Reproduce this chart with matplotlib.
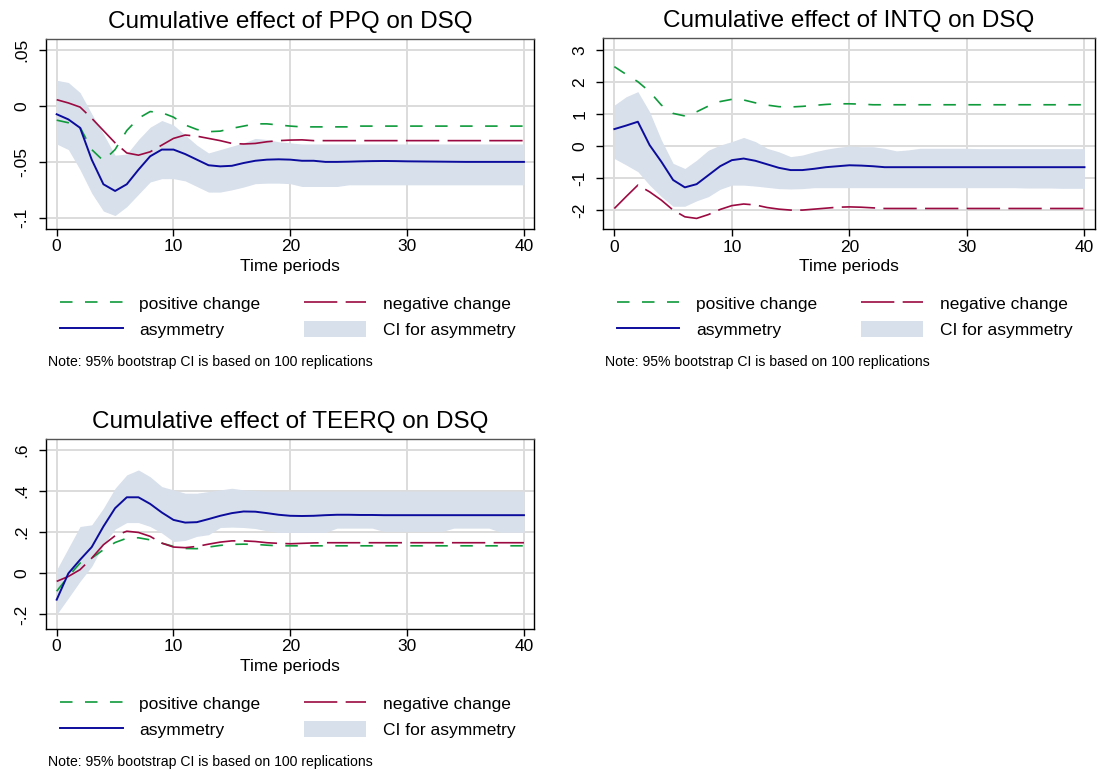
import matplotlib
matplotlib.use('Agg')
import matplotlib.pyplot as plt
from matplotlib.patches import Patch
from matplotlib.lines import Line2D

plt.rcParams['font.family'] = ['Liberation Sans', 'DejaVu Sans']
plt.rcParams['lines.scale_dashes'] = False

periods = list(range(41))

# PPQ panel
ppq_pos = [-0.0127, -0.015, -0.019, -0.039, -0.049, -0.039, -0.022, -0.011, -0.005, -0.006,
           -0.010, -0.017, -0.021, -0.023, -0.0225, -0.020, -0.018, -0.016, -0.016, -0.017,
           -0.018, -0.0187, -0.0187, -0.0187, -0.0187, -0.0187, -0.018, -0.018, -0.018, -0.018,
           -0.018, -0.018, -0.018, -0.018, -0.018, -0.018, -0.018, -0.018, -0.018, -0.018, -0.018]
ppq_neg = [0.0056, 0.0027, -0.001, -0.011, -0.022, -0.033, -0.042, -0.044, -0.041, -0.035,
           -0.029, -0.026, -0.027, -0.029, -0.031, -0.0335, -0.034, -0.0335, -0.032, -0.031,
           -0.0305, -0.0303, -0.031, -0.031, -0.031, -0.031, -0.031, -0.031, -0.031, -0.031,
           -0.031, -0.031, -0.031, -0.031, -0.031, -0.031, -0.031, -0.031, -0.031, -0.031, -0.031]
ppq_asym = [-0.0074, -0.012, -0.0195, -0.048, -0.070, -0.076, -0.070, -0.057, -0.045, -0.039,
            -0.039, -0.043, -0.048, -0.053, -0.054, -0.0535, -0.051, -0.049, -0.048, -0.0477,
            -0.048, -0.049, -0.049, -0.050, -0.050, -0.0498, -0.0495, -0.0493, -0.0492, -0.0493,
            -0.0495, -0.0496, -0.0497, -0.0498, -0.0499, -0.05, -0.05, -0.05, -0.05, -0.05, -0.05]
ppq_hi = [0.023, 0.021, 0.012, -0.007, -0.025, -0.044, -0.043, -0.030, -0.019, -0.013,
          -0.017, -0.026, -0.035, -0.042, -0.039, -0.036, -0.033, -0.029, -0.030, -0.032,
          -0.033, -0.034, -0.034, -0.034, -0.034, -0.034, -0.034, -0.034, -0.034, -0.034,
          -0.034, -0.034, -0.034, -0.034, -0.034, -0.034, -0.034, -0.034, -0.034, -0.034, -0.034]
ppq_lo = [-0.034, -0.039, -0.057, -0.078, -0.094, -0.098, -0.090, -0.079, -0.068, -0.065,
          -0.065, -0.067, -0.072, -0.077, -0.077, -0.075, -0.0725, -0.0695, -0.069, -0.069,
          -0.0695, -0.072, -0.072, -0.072, -0.072, -0.0705, -0.0705, -0.0705, -0.0705, -0.0705,
          -0.0705, -0.0705, -0.0705, -0.0705, -0.0705, -0.0705, -0.0705, -0.0705, -0.0705, -0.0705, -0.0705]

# INTQ panel
intq_pos = [2.48, 2.24, 2.01, 1.70, 1.28, 1.02, 0.94, 1.07, 1.25, 1.39,
            1.46, 1.44, 1.35, 1.28, 1.23, 1.22, 1.24, 1.27, 1.30, 1.32,
            1.32, 1.31, 1.29, 1.29, 1.29, 1.29, 1.29, 1.29, 1.29, 1.29,
            1.29, 1.29, 1.29, 1.29, 1.29, 1.29, 1.29, 1.29, 1.29, 1.29, 1.29]
intq_neg = [-1.95, -1.58, -1.22, -1.43, -1.69, -2.00, -2.21, -2.26, -2.14, -1.98,
            -1.86, -1.81, -1.84, -1.92, -1.97, -2.00, -2.00, -1.97, -1.94, -1.91,
            -1.90, -1.91, -1.93, -1.95, -1.95, -1.95, -1.95, -1.95, -1.95, -1.95,
            -1.95, -1.95, -1.95, -1.95, -1.95, -1.95, -1.95, -1.95, -1.95, -1.95, -1.95]
intq_asym = [0.53, 0.64, 0.76, 0.03, -0.49, -1.06, -1.29, -1.19, -0.91, -0.63,
             -0.44, -0.39, -0.46, -0.57, -0.68, -0.75, -0.75, -0.71, -0.66, -0.63,
             -0.60, -0.61, -0.63, -0.66, -0.66, -0.66, -0.66, -0.66, -0.66, -0.66,
             -0.66, -0.66, -0.66, -0.66, -0.66, -0.66, -0.66, -0.66, -0.66, -0.66, -0.66]
intq_hi = [1.28, 1.54, 1.70, 1.07, 0.19, -0.54, -0.70, -0.44, -0.13, 0.03,
           0.14, 0.27, 0.14, -0.07, -0.18, -0.33, -0.28, -0.18, -0.10, -0.04,
           0.00, -0.02, -0.02, -0.07, -0.15, -0.12, -0.07, -0.07, -0.07, -0.07,
           -0.07, -0.08, -0.08, -0.08, -0.08, -0.08, -0.08, -0.08, -0.08, -0.08, -0.08]
intq_lo = [-0.39, -0.59, -0.80, -1.22, -1.58, -1.88, -1.88, -1.71, -1.58, -1.35,
           -1.22, -1.22, -1.25, -1.29, -1.33, -1.34, -1.33, -1.30, -1.30, -1.30,
           -1.30, -1.30, -1.30, -1.30, -1.30, -1.30, -1.30, -1.30, -1.30, -1.30,
           -1.30, -1.30, -1.30, -1.30, -1.30, -1.31, -1.31, -1.31, -1.32, -1.32, -1.32]

# TEERQ panel
teerq_pos = [-0.087, -0.015, 0.050, 0.074, 0.115, 0.150, 0.171, 0.173, 0.163, 0.147,
             0.131, 0.121, 0.120, 0.128, 0.136, 0.141, 0.142, 0.141, 0.137, 0.134,
             0.134, 0.134, 0.134, 0.134, 0.134, 0.134, 0.134, 0.134, 0.134, 0.134,
             0.134, 0.134, 0.134, 0.134, 0.134, 0.134, 0.134, 0.134, 0.134, 0.134, 0.134]
teerq_neg = [-0.039, -0.015, 0.018, 0.074, 0.139, 0.183, 0.205, 0.199, 0.180, 0.147,
             0.128, 0.125, 0.131, 0.142, 0.152, 0.158, 0.158, 0.155, 0.149, 0.146,
             0.144, 0.146, 0.148, 0.149, 0.149, 0.149, 0.149, 0.149, 0.149, 0.149,
             0.149, 0.149, 0.149, 0.149, 0.149, 0.149, 0.149, 0.149, 0.149, 0.149, 0.149]
teerq_asym = [-0.128, 0.000, 0.066, 0.128, 0.228, 0.317, 0.370, 0.370, 0.338, 0.296,
              0.260, 0.247, 0.249, 0.264, 0.280, 0.293, 0.301, 0.300, 0.293, 0.285,
              0.280, 0.279, 0.280, 0.283, 0.285, 0.285, 0.284, 0.284, 0.283, 0.283,
              0.283, 0.283, 0.283, 0.283, 0.283, 0.283, 0.283, 0.283, 0.283, 0.283, 0.283]
teerq_hi = [0.018, 0.123, 0.228, 0.236, 0.317, 0.414, 0.479, 0.503, 0.470, 0.422,
            0.406, 0.390, 0.390, 0.398, 0.406, 0.414, 0.406, 0.403, 0.400, 0.400,
            0.400, 0.400, 0.400, 0.400, 0.400, 0.400, 0.400, 0.400, 0.400, 0.400,
            0.400, 0.400, 0.400, 0.400, 0.400, 0.400, 0.400, 0.400, 0.400, 0.400, 0.400]
teerq_lo = [-0.200, -0.120, -0.039, 0.034, 0.139, 0.215, 0.247, 0.247, 0.228, 0.196,
            0.155, 0.160, 0.180, 0.188, 0.223, 0.225, 0.223, 0.218, 0.207, 0.199,
            0.199, 0.199, 0.199, 0.199, 0.220, 0.220, 0.220, 0.220, 0.204, 0.204,
            0.204, 0.204, 0.204, 0.204, 0.220, 0.220, 0.220, 0.220, 0.200, 0.200, 0.200]

titles = ['Cumulative effect of PPQ on DSQ', 'Cumulative effect of INTQ on DSQ',
          'Cumulative effect of TEERQ on DSQ']
ppq_ticks = [-0.1, -0.05, 0, 0.05]
ppq_labels = ['-.1', '-.05', '0', '.05']
intq_ticks = [-2, -1, 0, 1, 2, 3]
intq_labels = ['-2', '-1', '0', '1', '2', '3']
teerq_ticks = [-0.2, 0, 0.2, 0.4, 0.6]
teerq_labels = ['-.2', '0', '.2', '.4', '.6']
x_ticks = [0, 10, 20, 30, 40]

GREEN = '#0f9a3c'
RED = '#9b0a41'
BLUE = '#0c0c9c'
BAND = '#d8e0eb'
GRID = '#dcdcdc'

W, H = 1101, 770


def fig_rect(left, top, right, bottom):
	'''	Pixel box -> figure fraction rect. '''
	return [left / W, 1 - bottom / H, (right - left) / W, (bottom - top) / H]


def draw_panel(fig, rect, title, pos, neg, asym, lo, hi, yticks, ylabels, ylim):
	ax = fig.add_axes(rect)
	ax.fill_between(periods, lo, hi, color=BAND, lw=0, zorder=1)
	ax.plot(periods, pos, color=GREEN, lw=1.2, ls=(0, (9, 9)), zorder=3)
	ax.plot(periods, neg, color=RED, lw=1.2, ls=(0, (24, 6)), zorder=3)
	ax.plot(periods, asym, color=BLUE, lw=1.4, zorder=4)
	ax.set_xlim(-0.94, 40.86)
	ax.set_ylim(*ylim)
	ax.set_xticks(x_ticks)
	ax.set_yticks(yticks)
	ax.set_yticklabels(ylabels, rotation=90, va='center')
	ax.tick_params(labelsize=12.5, length=5, width=1, color='black')
	ax.tick_params(axis='x', pad=2.5)
	ax.tick_params(axis='y', pad=6.5)
	ax.grid(True, color=GRID, lw=1.4, zorder=0)
	ax.set_axisbelow(True)
	for s in ax.spines.values():
		s.set_color('black')
		s.set_linewidth(1)
	ax.spines['top'].set_color('#555555')
	ax.set_xlabel('Time periods', fontsize=12.5, labelpad=3)
	ax.set_title(title, fontsize=17.5, pad=8)
	return ax


def draw_legend(fig, left, top, note_y):
	handles = [Line2D([], [], color=GREEN, lw=1.2, ls=(0, (9, 9))),
	           Line2D([], [], color=BLUE, lw=1.4),
	           Line2D([], [], color=RED, lw=1.2, ls=(0, (24, 6))),
	           Patch(facecolor=BAND, edgecolor='none')]
	labels = ['positive change', 'asymmetry', 'negative change', 'CI for asymmetry']
	fig.legend(handles, labels, loc='upper left',
	           bbox_to_anchor=(left / W, 1 - top / H), bbox_transform=fig.transFigure,
	           ncol=2, frameon=False, fontsize=12.5, borderpad=0, borderaxespad=0,
	           handlelength=3.6, handleheight=1.05, handletextpad=0.97,
	           columnspacing=2.5, labelspacing=0.52)
	fig.text((left - 12) / W, 1 - note_y / H,
	         'Note: 95% bootstrap CI is based on 100 replications',
	         fontsize=10.1, va='center', ha='left')


def main():
	fig = plt.figure(figsize=(W / 100, H / 100), dpi=100)

	draw_panel(fig, fig_rect(45.7, 39.3, 534, 229), titles[0],
	           ppq_pos, ppq_neg, ppq_asym, ppq_lo, ppq_hi,
	           ppq_ticks, ppq_labels, (-0.110, 0.0596))
	draw_legend(fig, 60, 295, 362)

	draw_panel(fig, fig_rect(603.3, 38.3, 1094.6, 229.3), titles[1],
	           intq_pos, intq_neg, intq_asym, intq_lo, intq_hi,
	           intq_ticks, intq_labels, (-2.60, 3.366))
	draw_legend(fig, 617, 295, 362)

	draw_panel(fig, fig_rect(45.7, 439, 534, 629), titles[2],
	           teerq_pos, teerq_neg, teerq_asym, teerq_lo, teerq_hi,
	           teerq_ticks, teerq_labels, (-0.2706, 0.6535))
	draw_legend(fig, 60, 695, 762)

	fig.savefig('out.png', dpi=100, facecolor='white')


if __name__ == '__main__':
	main()
